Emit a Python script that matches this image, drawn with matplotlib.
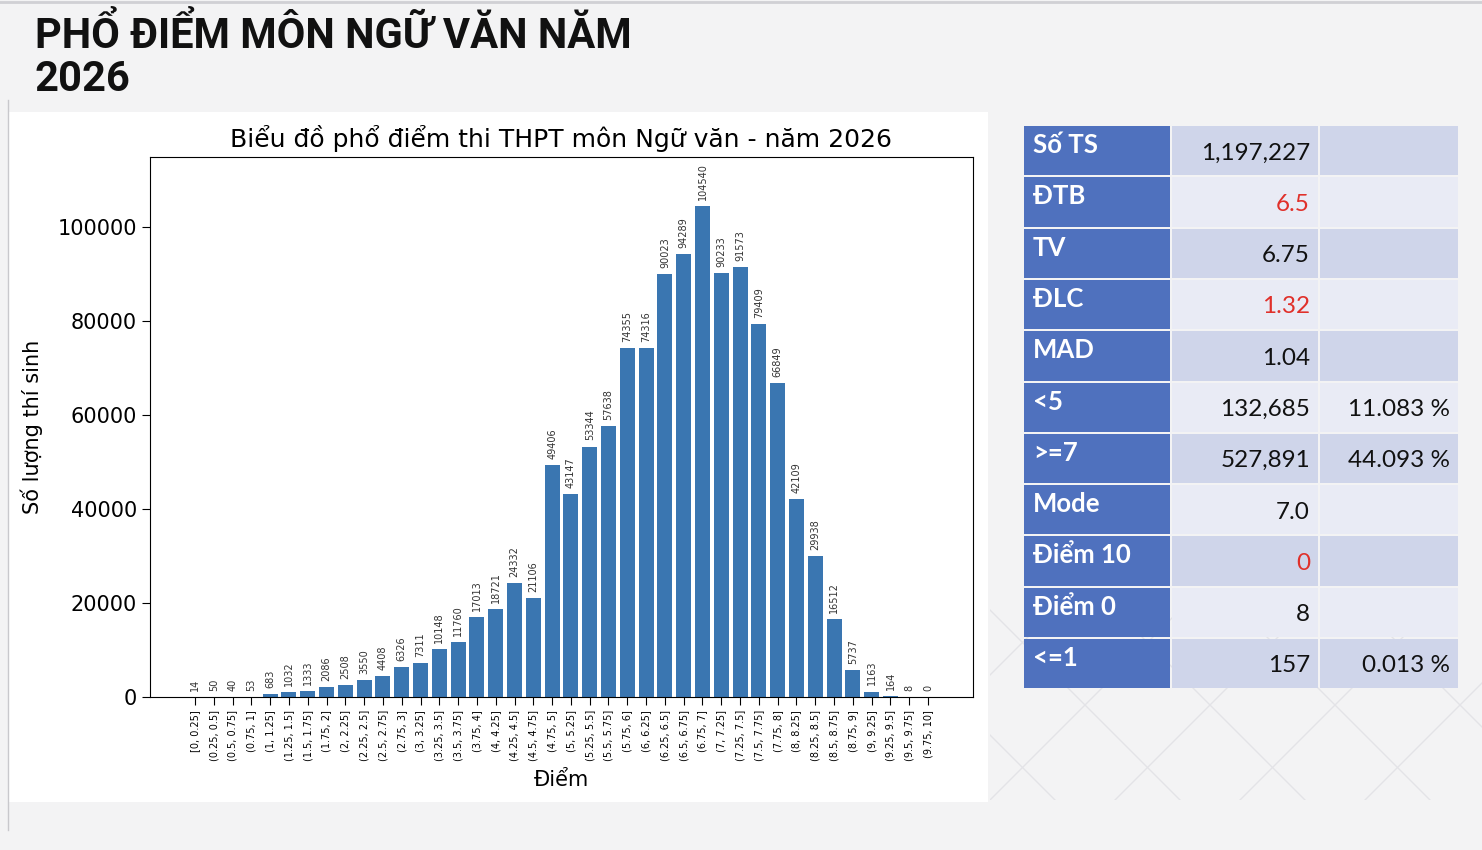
import matplotlib
matplotlib.use('Agg')
import matplotlib.pyplot as plt
from matplotlib.patches import Rectangle

# score bins and candidate counts
bins = ['[0, 0.25]', '(0.25, 0.5]', '(0.5, 0.75]', '(0.75, 1]', '(1, 1.25]', '(1.25, 1.5]',
        '(1.5, 1.75]', '(1.75, 2]', '(2, 2.25]', '(2.25, 2.5]', '(2.5, 2.75]', '(2.75, 3]',
        '(3, 3.25]', '(3.25, 3.5]', '(3.5, 3.75]', '(3.75, 4]', '(4, 4.25]', '(4.25, 4.5]',
        '(4.5, 4.75]', '(4.75, 5]', '(5, 5.25]', '(5.25, 5.5]', '(5.5, 5.75]', '(5.75, 6]',
        '(6, 6.25]', '(6.25, 6.5]', '(6.5, 6.75]', '(6.75, 7]', '(7, 7.25]', '(7.25, 7.5]',
        '(7.5, 7.75]', '(7.75, 8]', '(8, 8.25]', '(8.25, 8.5]', '(8.5, 8.75]', '(8.75, 9]',
        '(9, 9.25]', '(9.25, 9.5]', '(9.5, 9.75]', '(9.75, 10]']
counts = [14, 50, 40, 53, 683, 1032, 1333, 2086, 2508, 3550, 4408, 6326, 7311, 10148,
          11760, 17013, 18721, 24332, 21106, 49406, 43147, 53344, 57638, 74355, 74316,
          90023, 94289, 104540, 90233, 91573, 79409, 66849, 42109, 29938, 16512, 5737,
          1163, 164, 8, 0]

# summary table
stat_names = ['Số TS', 'ĐTB', 'TV', 'ĐLC', 'MAD', '<5', '>=7', 'Mode', 'Điểm 10', 'Điểm 0', '<=1']
stat_values = ['1,197,227', '6.5', '6.75', '1.32', '1.04', '132,685', '527,891', '7.0', '0', '8', '157']
stat_pct = ['', '', '', '', '', '11.083 %', '44.093 %', '', '', '', '0.013 %']
stat_red = [False, True, False, True, False, False, False, False, True, False, False]

W, H = 1482, 850
fig = plt.figure(figsize=(W / 100, H / 100), dpi=100, facecolor='#f3f3f4')

# background layer in pixel coordinates
bg = fig.add_axes([0, 0, 1, 1])
bg.set_xlim(0, W)
bg.set_ylim(H, 0)
bg.axis('off')
# faint diamond pattern at the lower right, behind everything
for k in range(-3, 6):
    x0 = 990 + k * 125
    bg.plot([x0, x0 + 190], [610, 800], color='#e3e3e7', lw=1, zorder=0)
    bg.plot([x0 + 190, x0], [610, 800], color='#e3e3e7', lw=1, zorder=0)
bg.add_patch(Rectangle((988, 800), 494, 50, facecolor='#f3f3f4', edgecolor='none', zorder=0.5))
bg.add_patch(Rectangle((0, 600), 990, 250, facecolor='#f3f3f4', edgecolor='none', zorder=0.5))
bg.add_patch(Rectangle((8, 112), 980, 690, facecolor='white', edgecolor='none', zorder=1))
bg.plot([8, 8], [100, 830], color='#c8c8cc', lw=1, zorder=1)
bg.plot([0, W], [2, 2], color='#d0d0d4', lw=2, zorder=1)

bg.text(35, 15, 'PHỔ ĐIỂM MÔN NGỮ VĂN NĂM\n2026', fontsize=30, fontweight='bold',
        family=['Roboto', 'DejaVu Sans'], va='top', ha='left',
        linespacing=1.05, color='#111111', zorder=3)

# table
x_cols = [1024, 1172, 1320, 1458]
y0, rh = 126, 51.3
for i, name in enumerate(stat_names):
    y = y0 + i * rh
    cell_bg = '#cfd5ea' if i % 2 == 0 else '#e9ebf5'
    bg.add_patch(Rectangle((x_cols[0], y), x_cols[1] - x_cols[0] - 2, rh - 2,
                           facecolor='#4f71be', edgecolor='none', zorder=2))
    bg.add_patch(Rectangle((x_cols[1], y), x_cols[2] - x_cols[1] - 2, rh - 2,
                           facecolor=cell_bg, edgecolor='none', zorder=2))
    bg.add_patch(Rectangle((x_cols[2], y), x_cols[3] - x_cols[2], rh - 2,
                           facecolor=cell_bg, edgecolor='none', zorder=2))
    bg.text(x_cols[0] + 9, y + 19, name, fontsize=18.5, fontweight='bold', color='white',
            family='Lato', va='center', ha='left', zorder=3)
    bg.text(x_cols[2] - 10, y + 27, stat_values[i], fontsize=17.5,
            color='#e0302a' if stat_red[i] else '#111111', family='Lato',
            va='center', ha='right', zorder=3)
    if stat_pct[i]:
        bg.text(x_cols[3] - 8, y + 27, stat_pct[i], fontsize=17.5, color='#111111',
                family='Lato', va='center', ha='right', zorder=3)

# bar chart
ax = fig.add_axes([150 / W, (H - 697) / H, 823 / W, 540 / H])
pos = range(len(bins))
rects = ax.bar(pos, counts, color='#3a76b1', width=0.8)
for r, c in zip(rects, counts):
    ax.text(r.get_x() + r.get_width() / 2, c + 1300, str(c), rotation=90,
            ha='center', va='bottom', fontsize=7, color='#333333')
ax.set_ylim(0, max(counts) * 1.1)
ax.set_xticks(list(pos))
ax.set_xticklabels(bins, rotation=90, fontsize=7.0)
ax.tick_params(axis='y', labelsize=15, length=6)
ax.tick_params(axis='x', length=6)
ax.set_title('Biểu đồ phổ điểm thi THPT môn Ngữ văn - năm 2026', fontsize=18, pad=7)
ax.set_xlabel('Điểm', fontsize=15, labelpad=6)
ax.set_ylabel('Số lượng thí sinh', fontsize=15, labelpad=10)

fig.savefig('out.png', dpi=100, facecolor=fig.get_facecolor())
